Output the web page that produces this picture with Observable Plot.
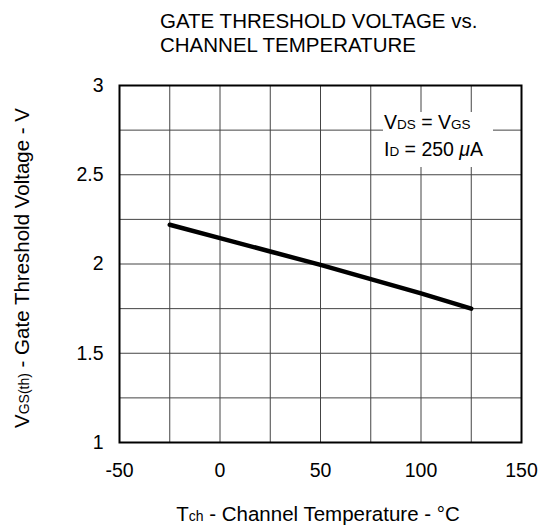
<!DOCTYPE html>
<html>
<head>
<meta charset="utf-8">
<script src="https://cdn.jsdelivr.net/npm/d3@7"></script>
<script src="https://cdn.jsdelivr.net/npm/@observablehq/plot@0.6"></script>
<style>
  html, body { margin: 0; padding: 0; background: white; }
</style>
</head>
<body>
<div id="chart"></div>
<script>
// Data
const tempC = [-25, 0, 25, 50, 75, 100, 125];
const vth = [2.22, 2.145, 2.07, 1.995, 1.915, 1.835, 1.75];
const xTicks = [-50, 0, 50, 100, 150];
const yTicks = [1, 1.5, 2, 2.5, 3];
const xGrid = [-25, 0, 25, 50, 75, 100, 125];
const yGrid = [1.25, 1.5, 1.75, 2, 2.25, 2.5, 2.75];
const titleLines = ["GATE THRESHOLD VOLTAGE vs.", "CHANNEL TEMPERATURE"];

const data = tempC.map((t, i) => ({t, v: vth[i]}));
const FONT = "'Liberation Sans', Arial, Helvetica, sans-serif";

const plot = Plot.plot({
  width: 539,
  height: 527,
  marginTop: 85,
  marginBottom: 85,
  marginLeft: 119,
  marginRight: 18,
  style: {fontFamily: FONT, fontSize: "19.5px", background: "white", color: "black", overflow: "visible"},
  x: {domain: [-50, 150]},
  y: {domain: [1, 3]},
  marks: [
    Plot.gridX(xGrid, {stroke: "#444", strokeOpacity: 1, strokeWidth: 1}),
    Plot.gridY(yGrid, {stroke: "#444", strokeOpacity: 1, strokeWidth: 1}),
    Plot.line(data, {x: "t", y: "v", stroke: "black", strokeWidth: 4.5, strokeLinecap: "round", strokeLinejoin: "round"}),
    Plot.frame({stroke: "black", strokeWidth: 2}),
    Plot.axisX(xTicks, {tickSize: 0, tickPadding: 21, label: null, tickFormat: d => String(d), fontSize: 19.5}),
    Plot.axisY(yTicks, {tickSize: 0, tickPadding: 16, label: null, tickFormat: d => String(d), fontSize: 19.5})
  ]
});

document.getElementById("chart").appendChild(plot);

const svg = d3.select(plot);

// White legend box covering the grid (inserted below the line mark)
const lineG = svg.select("g[aria-label='line']").node();
const box = document.createElementNS("http://www.w3.org/2000/svg", "rect");
d3.select(box)
  .attr("x", 383).attr("y", 112).attr("width", 110).attr("height", 55)
  .attr("fill", "white");
plot.insertBefore(box, lineG);

// Title
const title = svg.append("text")
  .attr("font-family", FONT).attr("font-size", 20.5).attr("fill", "black").attr("text-anchor", "start");
title.append("tspan").attr("x", 160).attr("y", 28).text(titleLines[0]);
title.append("tspan").attr("x", 160).attr("y", 52).text(titleLines[1]);

// Legend text
const leg1 = svg.append("text").attr("font-family", FONT).attr("font-size", 19.5).attr("text-anchor", "start").attr("x", 384).attr("y", 129);
leg1.append("tspan").text("V");
leg1.append("tspan").attr("font-size", 13.5).text("DS");
leg1.append("tspan").text(" = V");
leg1.append("tspan").attr("font-size", 13.5).text("GS");

const leg2 = svg.append("text").attr("font-family", FONT).attr("font-size", 19.5).attr("text-anchor", "start").attr("x", 384).attr("y", 156);
leg2.append("tspan").text("I");
leg2.append("tspan").attr("font-size", 13.5).text("D");
leg2.append("tspan").text(" = 250 ");
leg2.append("tspan").attr("font-style", "italic").text("μ");
leg2.append("tspan").text("A");

// X axis label
const xl = svg.append("text").attr("font-family", FONT).attr("font-size", 20.5)
  .attr("text-anchor", "middle").attr("x", 318).attr("y", 521);
xl.append("tspan").text("T");
xl.append("tspan").attr("font-size", 14).text("ch");
xl.append("tspan").text(" - Channel Temperature - °C");

// Y axis label
const yl = svg.append("text").attr("font-family", FONT).attr("font-size", 20.5)
  .attr("text-anchor", "middle")
  .attr("transform", "translate(29,268) rotate(-90)");
yl.append("tspan").text("V");
yl.append("tspan").attr("font-size", 14).text("GS(th)");
yl.append("tspan").text(" - Gate Threshold Voltage - V");
</script>
</body>
</html>
